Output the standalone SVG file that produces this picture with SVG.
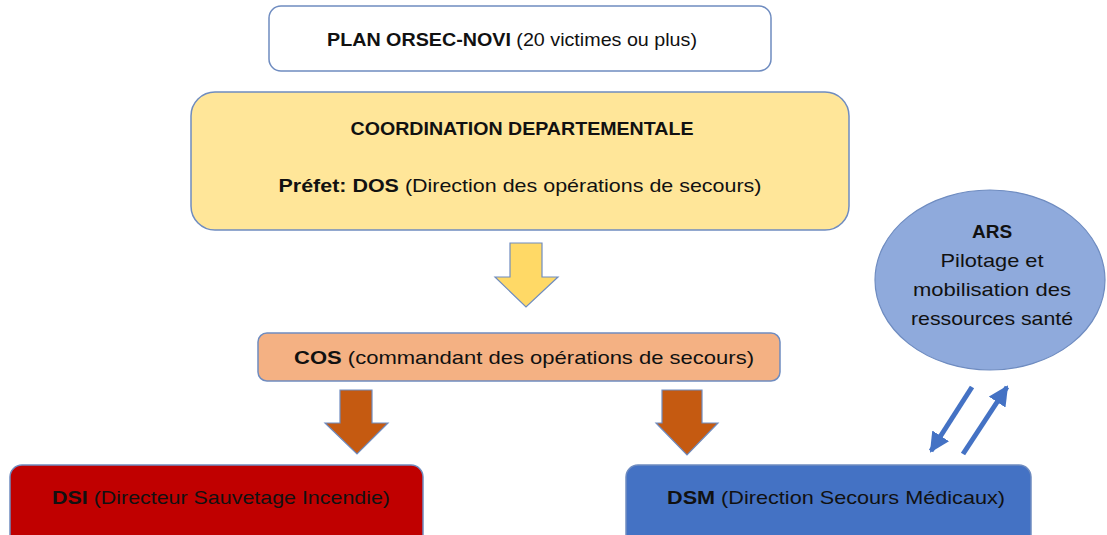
<svg xmlns="http://www.w3.org/2000/svg" width="1107" height="535" viewBox="0 0 1107 535">
<defs>
<style>
.t{font-family:"Liberation Sans",Arial,sans-serif;font-size:19px;fill:#111;}
.b{font-weight:bold;}
.box{stroke:#6f8cc0;stroke-width:1.5;}
.blk{stroke:#6f8cc0;stroke-width:1.2;}
</style>
<marker id="ah" viewBox="0 0 10 10" refX="9" refY="5" markerWidth="4" markerHeight="4" orient="auto">
<path d="M0,0 L10,5 L0,10 z" fill="#4472C4"/>
</marker>
</defs>
<rect width="1107" height="535" fill="#ffffff"/>
<g id="plan">
<rect class="box" x="269" y="6" width="502" height="65" rx="12" fill="#ffffff"/>
<text class="t" x="512" y="46" text-anchor="middle" textLength="370" lengthAdjust="spacingAndGlyphs"><tspan class="b">PLAN ORSEC-NOVI</tspan> (20 victimes ou plus)</text>
</g>
<g id="coordination">
<rect class="box" x="191" y="92" width="658" height="138" rx="24" fill="#FFE699"/>
<text class="t b" x="522" y="135" text-anchor="middle" textLength="343" lengthAdjust="spacingAndGlyphs">COORDINATION DEPARTEMENTALE</text>
<text class="t" x="520" y="192" text-anchor="middle" textLength="483" lengthAdjust="spacingAndGlyphs"><tspan class="b">Préfet: DOS</tspan> (Direction des opérations de secours)</text>
</g>
<g id="cos">
<rect class="box" x="258" y="333" width="522" height="48" rx="9" fill="#F4B183"/>
<text class="t" x="524" y="364" text-anchor="middle" textLength="460" lengthAdjust="spacingAndGlyphs"><tspan class="b">COS</tspan> (commandant des opérations de secours)</text>
</g>
<g id="dsi">
<rect class="box" x="10" y="465" width="413" height="85" rx="12" fill="#C00000"/>
<text class="t" x="221" y="504" text-anchor="middle" textLength="338" lengthAdjust="spacingAndGlyphs"><tspan class="b">DSI</tspan> (Directeur Sauvetage Incendie)</text>
</g>
<g id="dsm">
<rect class="box" x="626" y="465" width="405" height="85" rx="12" fill="#4472C4"/>
<text class="t" x="836" y="504" text-anchor="middle" textLength="338" lengthAdjust="spacingAndGlyphs"><tspan class="b">DSM</tspan> (Direction Secours Médicaux)</text>
</g>
<g id="ars">
<ellipse cx="990" cy="280" rx="115" ry="90" fill="#8FAADC" stroke="#6f8cc0" stroke-width="1.2"/>
<text class="t b" x="992" y="238" text-anchor="middle">ARS</text>
<text class="t" x="992" y="267" text-anchor="middle" textLength="103" lengthAdjust="spacingAndGlyphs">Pilotage et</text>
<text class="t" x="992" y="296" text-anchor="middle" textLength="158" lengthAdjust="spacingAndGlyphs">mobilisation des</text>
<text class="t" x="992" y="325" text-anchor="middle" textLength="162" lengthAdjust="spacingAndGlyphs">ressources santé</text>
</g>
<g id="connectors">
<path class="blk" d="M510,243 L542,243 L542,277 L558,277 L526,307 L495,277 L510,277 Z" fill="#FFD966"/>
<path class="blk" d="M340,390 L372,390 L372,423 L388,423 L357,454 L325,423 L340,423 Z" fill="#C55A11"/>
<path class="blk" d="M662,390 L702,390 L702,423 L718,423 L687,455 L656,423 L662,423 Z" fill="#C55A11"/>
<line x1="972" y1="387" x2="931" y2="451" stroke="#4472C4" stroke-width="5" marker-end="url(#ah)"/>
<line x1="963" y1="454" x2="1007" y2="387" stroke="#4472C4" stroke-width="5" marker-end="url(#ah)"/>
</g>
</svg>
